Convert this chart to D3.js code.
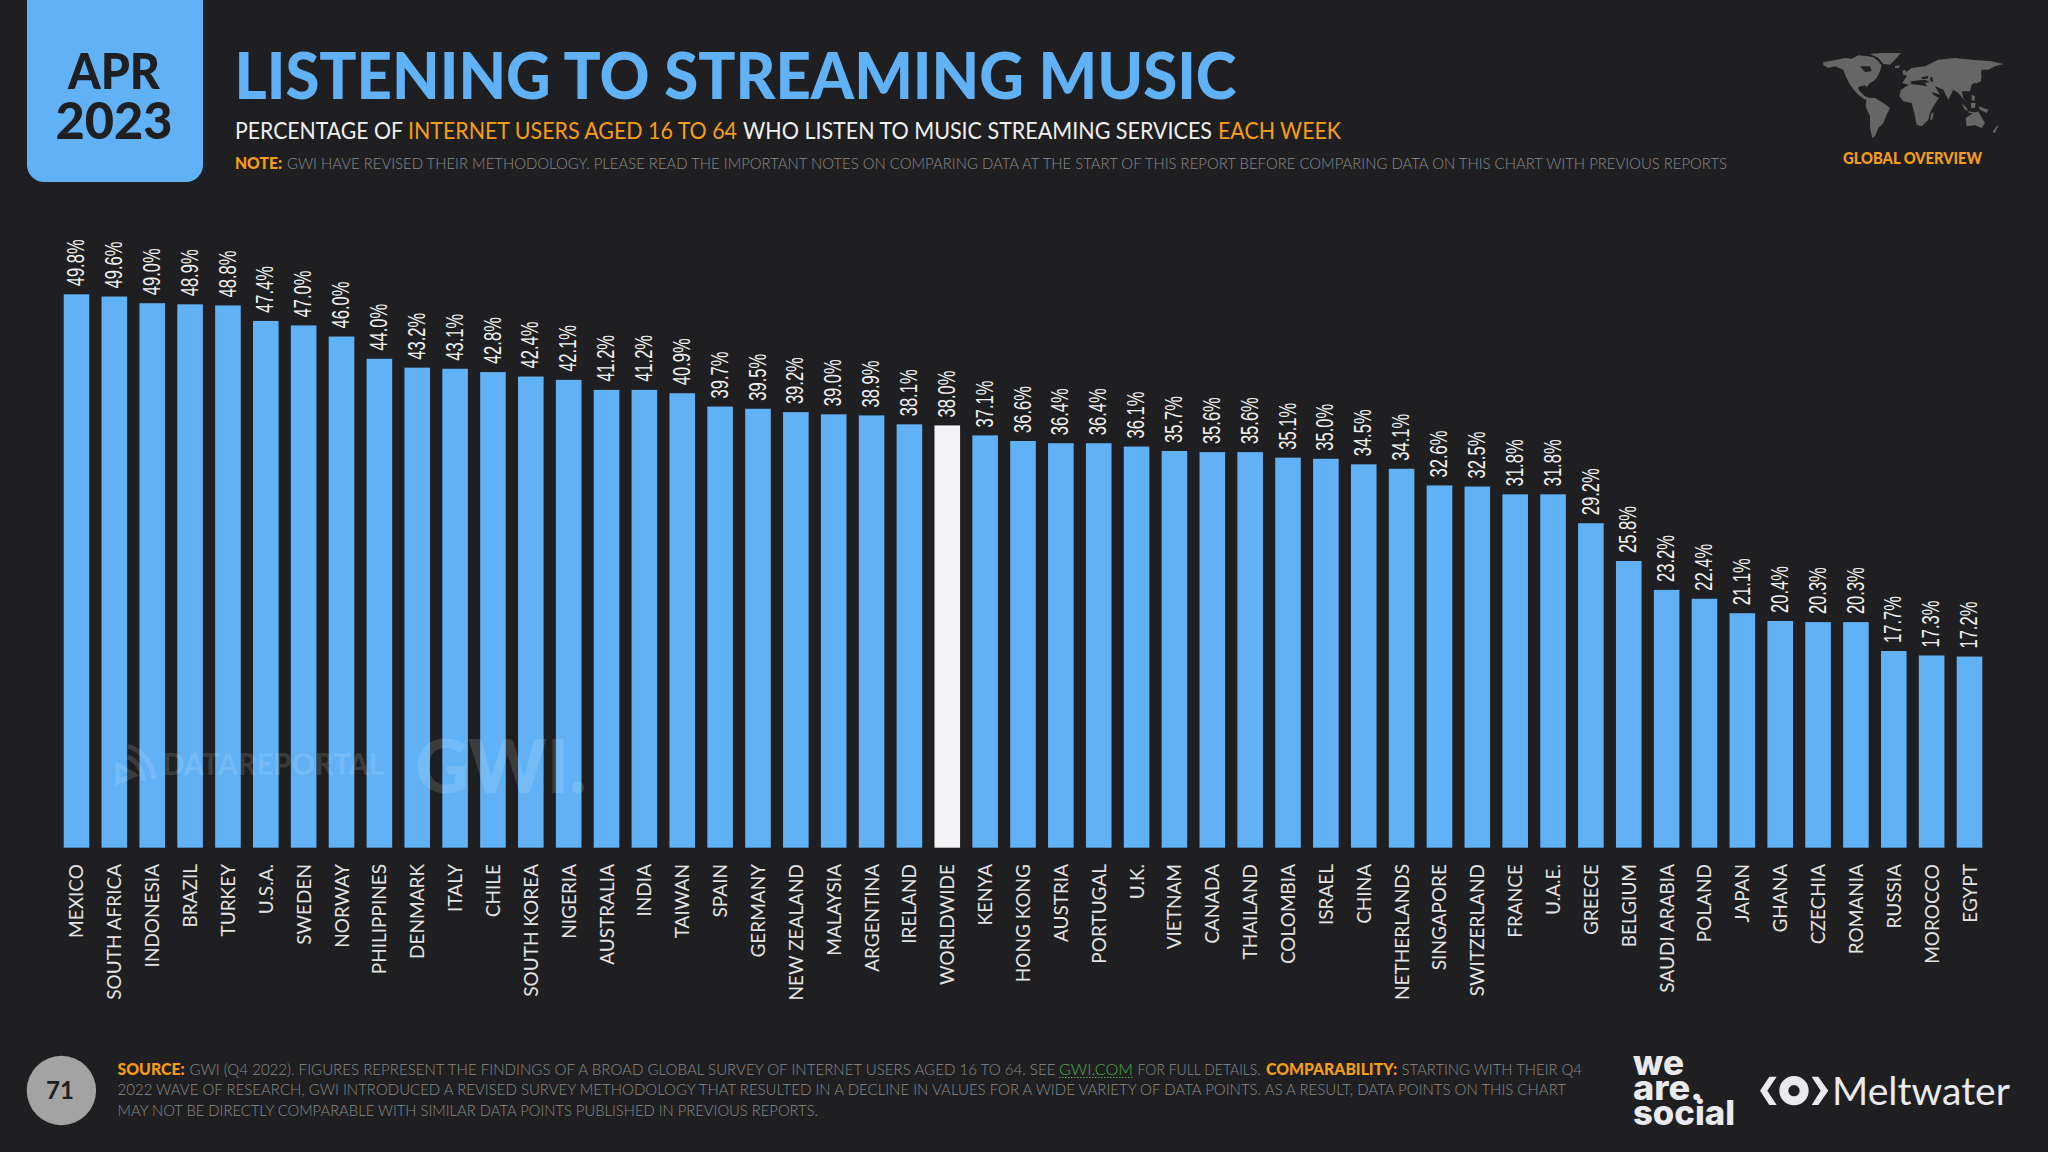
<!DOCTYPE html>
<html><head><meta charset="utf-8">
<script src="https://cdn.jsdelivr.net/npm/d3@7"></script>
<style>html,body{margin:0;padding:0;background:#1f1f21;overflow:hidden}svg{display:block}text{font-family:Lato,sans-serif}</style>
</head><body><svg id="c" width="2048" height="1152"></svg>
<script>
const categories=["MEXICO","SOUTH AFRICA","INDONESIA","BRAZIL","TURKEY","U.S.A.","SWEDEN","NORWAY","PHILIPPINES","DENMARK","ITALY","CHILE","SOUTH KOREA","NIGERIA","AUSTRALIA","INDIA","TAIWAN","SPAIN","GERMANY","NEW ZEALAND","MALAYSIA","ARGENTINA","IRELAND","WORLDWIDE","KENYA","HONG KONG","AUSTRIA","PORTUGAL","U.K.","VIETNAM","CANADA","THAILAND","COLOMBIA","ISRAEL","CHINA","NETHERLANDS","SINGAPORE","SWITZERLAND","FRANCE","U.A.E.","GREECE","BELGIUM","SAUDI ARABIA","POLAND","JAPAN","GHANA","CZECHIA","ROMANIA","RUSSIA","MOROCCO","EGYPT"];
const values=[49.8,49.6,49.0,48.9,48.8,47.4,47.0,46.0,44.0,43.2,43.1,42.8,42.4,42.1,41.2,41.2,40.9,39.7,39.5,39.2,39.0,38.9,38.1,38.0,37.1,36.6,36.4,36.4,36.1,35.7,35.6,35.6,35.1,35.0,34.5,34.1,32.6,32.5,31.8,31.8,29.2,25.8,23.2,22.4,21.1,20.4,20.3,20.3,17.7,17.3,17.2];
const highlight="WORLDWIDE";

const BLUE="#60b1f6",ORANGE="#f59e14",BG="#1f1f21";
const svg=d3.select("#c");
svg.append("rect").attr("width",2048).attr("height",1152).attr("fill",BG);

function t(s,x,y,size,weight,fill,len,g){
  const e=(g||svg).append("text").text(s).attr("x",x).attr("y",y).attr("font-size",size).attr("font-weight",weight).attr("fill",fill);
  if(len) e.attr("textLength",len).attr("lengthAdjust","spacingAndGlyphs");
  return e;
}

// chart
const x=d3.scaleBand().domain(categories).range([63.7,1982.3]).paddingInner(0.324).paddingOuter(0);
const y=d3.scaleLinear().domain([0,49.8]).range([847.7,294.3]);
const rows=categories.map((c,i)=>({c,v:values[i]}));
svg.append("g").selectAll("rect").data(rows).join("rect")
  .attr("x",d=>x(d.c)).attr("width",x.bandwidth()).attr("y",d=>y(d.v)).attr("height",d=>y(0)-y(d.v))
  .attr("fill",d=>d.c===highlight?"#f4f4f6":BLUE);
svg.append("g").selectAll("text").data(rows).join("text")
  .attr("transform",d=>`translate(${x(d.c)+x.bandwidth()/2+7.6},${y(d.v)-8}) rotate(-90) scale(0.69,1)`)
  .attr("font-size",24).attr("fill","#f2f2f2")
  .style("font-family","'Liberation Sans',sans-serif")
  .text(d=>d.v.toFixed(1)+"%");
const ax=svg.append("g").attr("transform","translate(0,864)").call(d3.axisBottom(x).tickSize(0));
ax.select(".domain").remove();
ax.selectAll(".tick text").attr("y",null).attr("dy",null).attr("x",null)
  .attr("transform","translate(7,0) rotate(-90) scale(0.95,1)")
  .attr("text-anchor","end").attr("font-size",20).attr("font-weight",400).attr("fill","#e4e4e4")
  .style("font-family","Lato,sans-serif");

// watermarks
const wm=svg.append("g").attr("fill","#fff").attr("fill-opacity",0.13);
t("DATAREPORTAL",162.5,775,31,900,"#fff",221.5,wm);
t("GWI.",415,793,74,900,"#fff",172,wm);
const wi=wm.append("g").attr("fill","none").attr("stroke","#fff").attr("stroke-opacity",0.13).attr("stroke-width",5);
wi.append("path").attr("d","M118 765 L118 782 L134 775 Z");
wi.append("path").attr("d","M128 757 A26 26 0 0 1 143 781");
wi.append("path").attr("d","M128 746 A38 38 0 0 1 154 779");

// badge
svg.append("path").attr("d","M27 0H203V165a17 17 0 0 1-17 17H44a17 17 0 0 1-17-17Z").attr("fill",BLUE);
t("APR",68,89,50,900,"#1f1f21",92);
t("2023",55.5,139,51,900,"#1f1f21",117);

// title block
t("LISTENING TO STREAMING MUSIC",234.5,99.3,65,900,BLUE,1002);
t("PERCENTAGE OF",235,139,24,400,"#f0f0f0",168);
t("INTERNET USERS AGED 16 TO 64",408,139,24,400,ORANGE,329);
t("WHO LISTEN TO MUSIC STREAMING SERVICES",743,139,24,400,"#f0f0f0",469);
t("EACH WEEK",1218,139,24,400,ORANGE,123);
t("NOTE:",235,169,16.5,900,ORANGE,47);
t("GWI HAVE REVISED THEIR METHODOLOGY. PLEASE READ THE IMPORTANT NOTES ON COMPARING DATA AT THE START OF THIS REPORT BEFORE COMPARING DATA ON THIS CHART WITH PREVIOUS REPORTS",287,169,16.5,300,"#8a8a8a",1440);

// world map icon
const map=svg.append("g").attr("transform","translate(1815,48) scale(0.3333)");
const land=[
"25,42 50,38 90,30 110,32 130,22 160,25 175,28 190,40 200,52 195,70 185,90 175,100 165,105 155,118 135,115 130,125 150,145 165,150 150,155 130,140 120,130 105,110 92,85 85,65 60,55 40,60 25,52",
"165,18 200,15 258,15 245,30 225,50 205,48 190,30",
"155,150 180,150 205,165 225,180 215,200 205,225 190,240 180,265 172,270 165,240 165,205 152,175",
"258,125 285,108 320,112 345,118 355,140 372,150 355,175 345,195 340,215 320,235 305,230 298,195 290,165 265,160 253,145",
"350,195 356,193 352,215 345,215",
"270,75 290,60 330,55 370,35 420,30 470,35 530,40 565,48 540,55 520,65 500,65 495,95 470,110 465,130 440,130 445,150 455,165 430,135 415,125 400,155 385,125 360,115 375,140 345,130 330,105 300,100 280,110 262,105 275,85",
"262,68 272,65 272,80 265,82","490,85 500,80 498,100 480,108","468,165 482,165 480,180 468,180","440,165 455,180 460,190 448,183",
"460,190 490,195 490,198 460,194","490,175 520,185 515,195 495,185","470,140 480,145 478,160 470,155",
"452,210 475,195 490,190 498,205 510,225 500,240 480,232 455,235","545,235 550,232 540,255 533,252","240,55 255,52 252,60 240,60"];
const holes=["135,55 165,55 170,70 150,72","130,118 150,112 160,122 145,128 132,125","285,100 330,95 345,103 320,105 295,108","345,88 352,88 355,102 347,100","318,88 340,84 338,92 322,93"];
map.selectAll("polygon.l").data(land).join("polygon").attr("class","l").attr("points",d=>d).attr("fill","#666");
map.selectAll("polygon.h").data(holes).join("polygon").attr("class","h").attr("points",d=>d).attr("fill",BG);
t("GLOBAL OVERVIEW",1843,164,16,900,ORANGE,139);

// footer
svg.append("circle").attr("cx",61.4).attr("cy",1090.5).attr("r",34.7).attr("fill","#a3a3a3");
t("71",60,1099,24,700,"#1f1f21").attr("text-anchor","middle");
const G="#8a8a8a";
t("SOURCE:",117.6,1074.5,16,900,ORANGE,67);
t("GWI (Q4 2022). FIGURES REPRESENT THE FINDINGS OF A BROAD GLOBAL SURVEY OF INTERNET USERS AGED 16 TO 64. SEE",189.4,1074.5,16,300,G,866);
t("GWI.COM",1059,1074.5,16,300,"#4caf50",74);
svg.append("line").attr("x1",1059).attr("x2",1133).attr("y1",1077.5).attr("y2",1077.5).attr("stroke","#4caf50").attr("stroke-width",1).attr("stroke-dasharray","1.5 1.5");
t("FOR FULL DETAILS.",1137.6,1074.5,16,300,G,123);
t("COMPARABILITY:",1266,1074.5,16,900,ORANGE,131);
t("STARTING WITH THEIR Q4",1401.5,1074.5,16,300,G,180.5);
t("2022 WAVE OF RESEARCH, GWI INTRODUCED A REVISED SURVEY METHODOLOGY THAT RESULTED IN A DECLINE IN VALUES FOR A WIDE VARIETY OF DATA POINTS. AS A RESULT, DATA POINTS ON THIS CHART",117.6,1095,16,300,G,1448.4);
t("MAY NOT BE DIRECTLY COMPARABLE WITH SIMILAR DATA POINTS PUBLISHED IN PREVIOUS REPORTS.",117.6,1115.5,16,300,G,700.4);

// logos
const L="#e9e9ee";
const wf=s=>s.style("font-family","Inter,Lato,sans-serif");
wf(t("we",1633,1075,34,800,L,51));
wf(t("are.",1633,1100,34,800,L,70));
wf(t("social",1633,1125,34,800,L,102));
const mi=svg.append("g").attr("transform","translate(1750,1060) scale(0.3333)").attr("fill",L);
mi.append("polygon").attr("points","30,92 58,50 80,50 52,92 80,135 58,135");
mi.append("polygon").attr("points","235,92 205,50 185,50 212,92 185,135 205,135");
mi.append("circle").attr("cx",132).attr("cy",92).attr("r",30.5).attr("fill","none").attr("stroke",L).attr("stroke-width",27);
t("Meltwater",1832,1105,38,400,L,178);
</script></body></html>
